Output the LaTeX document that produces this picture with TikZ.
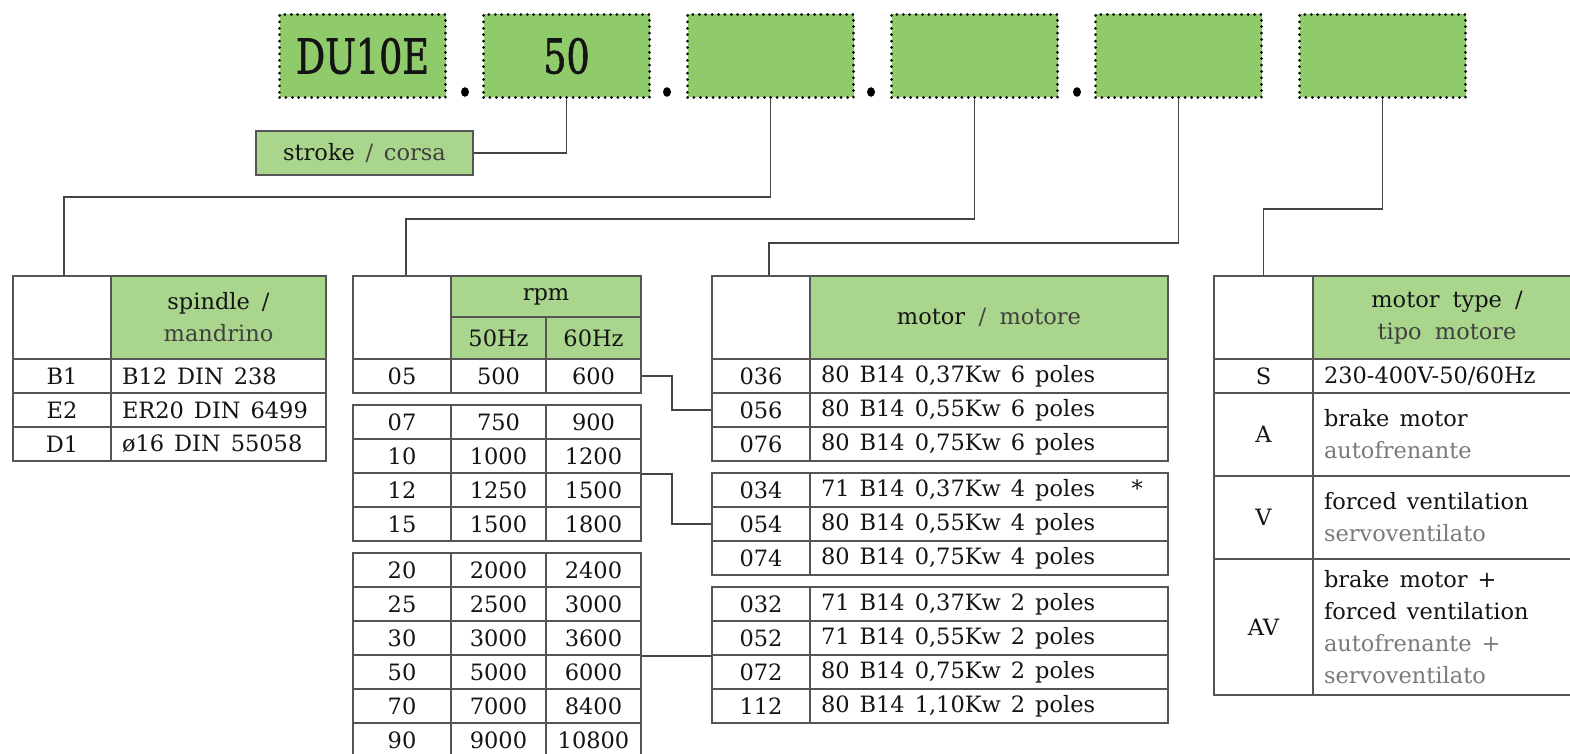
\documentclass[tikz,border=0pt]{standalone}
\usepackage{fontspec}
\setmainfont{DejaVu Serif}
\newfontfamily\topfont{DejaVu Serif}[FakeStretch=0.76,FakeBold=1.2]
\definecolor{topgreen}{HTML}{8FCB6B}
\definecolor{hdrgreen}{HTML}{AAD58C}
\definecolor{linegray}{HTML}{555555}
\definecolor{connc}{HTML}{444444}
\definecolor{txt}{HTML}{141414}
\definecolor{itdark}{HTML}{404040}
\definecolor{itlight}{HTML}{7A7A7A}
\newcommand\cellbox[7]{\node[cell,#6,minimum width={#4pt-#2pt},minimum height={#5pt-#3pt},text width={#4pt-#2pt-22pt}] (#1) at (#2,#3) {#7};}
\begin{document}
\begin{tikzpicture}[x=1pt,y=-1pt,
  topbox/.style={fill=topgreen,draw=black,line width=3pt,dash pattern=on 0pt off 6.4pt,line cap=round,
    minimum width=166pt,minimum height=83pt,inner sep=0pt,anchor=north west,text=txt,
    font=\topfont\fontsize{48}{48}\selectfont},
  cell/.style={draw=linegray,line width=2pt,fill=white,inner ysep=0pt,inner xsep=11pt,anchor=north west,
    align=center,text=txt,font=\fontsize{22.5}{32}\selectfont,
    execute at begin node={\spaceskip=10pt plus 2pt minus 1pt\relax}},
  hdr/.style={fill=hdrgreen},
  lft/.style={align=left},
  conn/.style={draw=connc,line width=1.7pt},
  dotmark/.style={fill=black}]
\useasboundingbox (0,0) rectangle (1570,754);
\clip (0,0) rectangle (1570,754);

% top code boxes
\node[topbox] (b1) at (278,13) {DU10E};
\node[topbox] (b2) at (482,13) {50};
\node[topbox] (b3) at (686,13) {};
\node[topbox] (b4) at (890,13) {};
\node[topbox] (b5) at (1094,13) {};
\node[topbox] (b6) at (1298,13) {};
\fill[dotmark] (465,92) ellipse (4pt and 4.8pt);
\fill[dotmark] (667,92) ellipse (4pt and 4.8pt);
\fill[dotmark] (871,92) ellipse (4pt and 4.8pt);
\fill[dotmark] (1077,92) ellipse (4pt and 4.8pt);

% stroke box
\cellbox{stroke}{255}{130}{472}{174}{hdr}{stroke {\color{itdark}/ corsa}}

% spindle table
\cellbox{s0}{12}{275}{110}{358}{}{}
\cellbox{s1}{110}{275}{325}{358}{hdr}{spindle /\\{\color{itdark}mandrino}}
\cellbox{sa1}{12}{358}{110}{392}{}{B1}
\cellbox{sb1}{110}{358}{325}{392}{lft}{B12 DIN 238}
\cellbox{sa2}{12}{392}{110}{426}{}{E2}
\cellbox{sb2}{110}{392}{325}{426}{lft}{ER20 DIN 6499}
\cellbox{sa3}{12}{426}{110}{460}{}{D1}
\cellbox{sb3}{110}{426}{325}{460}{lft}{ø16 DIN 55058}

% rpm table
\cellbox{r0}{352}{275}{450}{358}{}{}
\cellbox{rh}{450}{275}{640}{316}{hdr}{rpm}
\cellbox{rh5}{450}{316}{545}{358}{hdr}{50Hz}
\cellbox{rh6}{545}{316}{640}{358}{hdr}{60Hz}
\cellbox{r05a}{352}{358}{450}{392}{}{05}
\cellbox{r05b}{450}{358}{545}{392}{}{500}
\cellbox{r05c}{545}{358}{640}{392}{}{600}

\cellbox{r07a}{352}{404}{450}{438}{}{07}
\cellbox{r07b}{450}{404}{545}{438}{}{750}
\cellbox{r07c}{545}{404}{640}{438}{}{900}
\cellbox{r10a}{352}{438}{450}{472}{}{10}
\cellbox{r10b}{450}{438}{545}{472}{}{1000}
\cellbox{r10c}{545}{438}{640}{472}{}{1200}
\cellbox{r12a}{352}{472}{450}{506}{}{12}
\cellbox{r12b}{450}{472}{545}{506}{}{1250}
\cellbox{r12c}{545}{472}{640}{506}{}{1500}
\cellbox{r15a}{352}{506}{450}{540}{}{15}
\cellbox{r15b}{450}{506}{545}{540}{}{1500}
\cellbox{r15c}{545}{506}{640}{540}{}{1800}

\cellbox{r20a}{352}{552}{450}{586}{}{20}
\cellbox{r20b}{450}{552}{545}{586}{}{2000}
\cellbox{r20c}{545}{552}{640}{586}{}{2400}
\cellbox{r25a}{352}{586}{450}{620}{}{25}
\cellbox{r25b}{450}{586}{545}{620}{}{2500}
\cellbox{r25c}{545}{586}{640}{620}{}{3000}
\cellbox{r30a}{352}{620}{450}{654}{}{30}
\cellbox{r30b}{450}{620}{545}{654}{}{3000}
\cellbox{r30c}{545}{620}{640}{654}{}{3600}
\cellbox{r50a}{352}{654}{450}{688}{}{50}
\cellbox{r50b}{450}{654}{545}{688}{}{5000}
\cellbox{r50c}{545}{654}{640}{688}{}{6000}
\cellbox{r70a}{352}{688}{450}{722}{}{70}
\cellbox{r70b}{450}{688}{545}{722}{}{7000}
\cellbox{r70c}{545}{688}{640}{722}{}{8400}
\cellbox{r90a}{352}{722}{450}{757}{}{90}
\cellbox{r90b}{450}{722}{545}{757}{}{9000}
\cellbox{r90c}{545}{722}{640}{757}{}{10800}

% motor table
\cellbox{m0}{711}{275}{809}{358}{}{}
\cellbox{m1}{809}{275}{1167}{358}{hdr}{motor {\color{itdark}/ motore}}
\cellbox{m036a}{711}{358}{809}{392}{}{036}
\cellbox{m036b}{809}{358}{1167}{392}{lft}{80 B14 0,37Kw 6 poles}
\cellbox{m056a}{711}{392}{809}{426}{}{056}
\cellbox{m056b}{809}{392}{1167}{426}{lft}{80 B14 0,55Kw 6 poles}
\cellbox{m076a}{711}{426}{809}{460}{}{076}
\cellbox{m076b}{809}{426}{1167}{460}{lft}{80 B14 0,75Kw 6 poles}

\cellbox{m034a}{711}{472}{809}{506}{}{034}
\cellbox{m034b}{809}{472}{1167}{506}{lft}{71 B14 0,37Kw 4 poles\hfill*\hspace*{14pt}}
\cellbox{m054a}{711}{506}{809}{540}{}{054}
\cellbox{m054b}{809}{506}{1167}{540}{lft}{80 B14 0,55Kw 4 poles}
\cellbox{m074a}{711}{540}{809}{574}{}{074}
\cellbox{m074b}{809}{540}{1167}{574}{lft}{80 B14 0,75Kw 4 poles}

\cellbox{m032a}{711}{586}{809}{620}{}{032}
\cellbox{m032b}{809}{586}{1167}{620}{lft}{71 B14 0,37Kw 2 poles}
\cellbox{m052a}{711}{620}{809}{654}{}{052}
\cellbox{m052b}{809}{620}{1167}{654}{lft}{71 B14 0,55Kw 2 poles}
\cellbox{m072a}{711}{654}{809}{688}{}{072}
\cellbox{m072b}{809}{654}{1167}{688}{lft}{80 B14 0,75Kw 2 poles}
\cellbox{m112a}{711}{688}{809}{722}{}{112}
\cellbox{m112b}{809}{688}{1167}{722}{lft}{80 B14 1,10Kw 2 poles}

% motor type table (runs past the right edge)
\cellbox{t0}{1213}{275}{1312}{358}{}{}
\cellbox{t1}{1312}{275}{1600}{358}{hdr}{\hspace*{-20pt}motor type /\\\hspace*{-20pt}{\color{itdark}tipo motore}}
\cellbox{tSa}{1213}{358}{1312}{392}{}{S}
\cellbox{tSb}{1312}{358}{1600}{392}{lft}{230-400V-50/60Hz}
\cellbox{tAa}{1213}{392}{1312}{475}{}{A}
\cellbox{tAb}{1312}{392}{1600}{475}{lft}{brake motor\\{\color{itlight}autofrenante}}
\cellbox{tVa}{1213}{475}{1312}{558}{}{V}
\cellbox{tVb}{1312}{475}{1600}{558}{lft}{forced ventilation\\{\color{itlight}servoventilato}}
\cellbox{tAVa}{1213}{558}{1312}{694}{}{AV}
\cellbox{tAVb}{1312}{558}{1600}{694}{lft}{brake motor +\\forced ventilation\\{\color{itlight}autofrenante +}\\{\color{itlight}servoventilato}}

% connectors
\draw[conn] (b2.south) |- (stroke.east);
\draw[conn] (b3.south) -- ++(0,98) -| ([xshift=2pt]s0.north);
\draw[conn] (b4.south) -- ++(0,120) -| ([xshift=4pt]r0.north);
\draw[conn] (b5.south) -- ++(0,144) -| ([xshift=8pt]m0.north);
\draw[conn] (b6.south) -- ++(0,110) -| (t0.north);
\draw[conn] (r05c.east) -- ++(30,0) |- (m056a.west);
\draw[conn] (r10c.south east) -- ++(30,0) |- (m054a.west);
\draw[conn] (r30c.south east) -- (m052a.south west);
\end{tikzpicture}
\end{document}
